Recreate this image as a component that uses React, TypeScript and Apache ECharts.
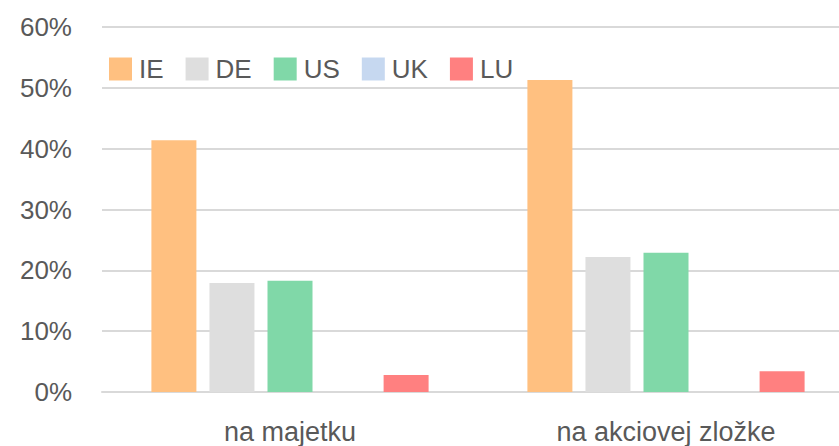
import React, { useEffect, useRef } from "react";
import * as echarts from "echarts";

const categories = ["na majetku", "na akciovej zložke"];
const seriesNames = ["IE", "DE", "US", "UK", "LU"];
const ieValues = [41.4, 51.3];
const deValues = [17.9, 22.2];
const usValues = [18.3, 22.9];
const ukValues = [0, 0];
const luValues = [2.8, 3.4];
const colors = ["#FFC080", "#DEDEDE", "#80D8A8", "#C6D8F0", "#FF8080"];

export default function App() {
  const ref = useRef<HTMLDivElement>(null);
  useEffect(() => {
    if (!ref.current) return;
    const chart = echarts.init(ref.current, null, { renderer: "svg" });
    const data = [ieValues, deValues, usValues, ukValues, luValues];
    const font = "'Liberation Sans', Arial, sans-serif";
    chart.setOption({
      animation: false,
      backgroundColor: "#ffffff",
      textStyle: { fontFamily: font },
      legend: {
        data: seriesNames,
        left: 104,
        top: 51,
        itemWidth: 23,
        itemHeight: 23,
        itemGap: 22,
        icon: "rect",
        textStyle: { fontSize: 26, color: "#595959", fontFamily: font, padding: [0, 0, 0, 2] },
      },
      grid: { left: 102, right: 6, top: 27, bottom: 54 },
      xAxis: {
        type: "category",
        data: categories,
        axisTick: { show: false },
        axisLine: { lineStyle: { color: "#D9D9D9", width: 2 } },
        axisLabel: { fontSize: 27, color: "#595959", margin: 26, fontFamily: font },
      },
      yAxis: {
        type: "value",
        min: 0,
        max: 60,
        interval: 10,
        axisLabel: { formatter: "{value}%", fontSize: 26, color: "#595959", margin: 30, fontFamily: font },
        splitLine: { lineStyle: { color: "#D9D9D9", width: 2 } },
        axisLine: { show: false },
        axisTick: { show: false },
      },
      series: seriesNames.map((name, i) => ({
        name,
        type: "bar",
        data: data[i],
        barWidth: 45,
        barGap: "29%",
        itemStyle: { color: colors[i] },
      })),
    });
    return () => chart.dispose();
  }, []);
  return (
    <div style={{ position: "absolute", left: 0, top: 0, width: 839, height: 446, overflow: "hidden" }}>
      <div ref={ref} style={{ width: 860, height: 446 }} />
    </div>
  );
}
